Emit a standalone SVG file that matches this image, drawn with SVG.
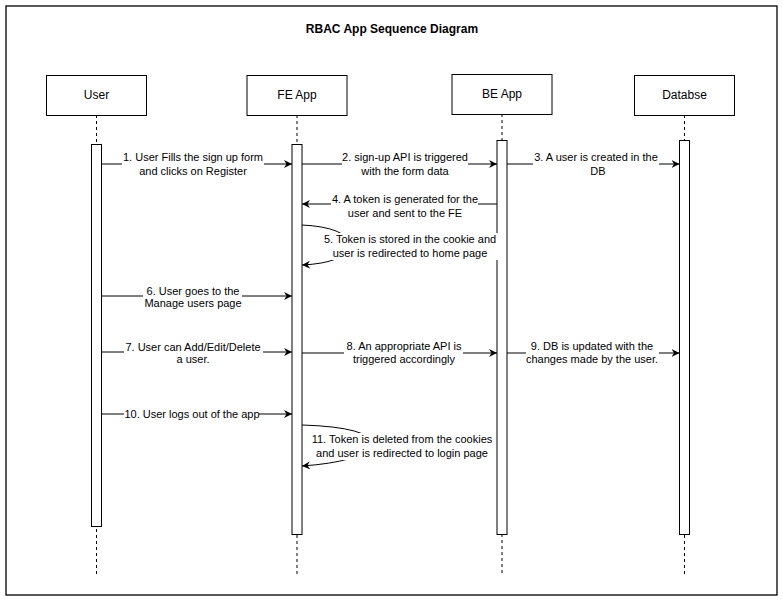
<svg xmlns="http://www.w3.org/2000/svg" width="783" height="602" viewBox="0 0 783 602">
<defs>
<style>
.frame{fill:#fff;stroke:#000;stroke-width:1.3}
.box{fill:#fff;stroke:#000;stroke-width:1}
.bar{fill:#fff;stroke:#000;stroke-width:1}
.life{stroke:#000;stroke-width:1;stroke-dasharray:3 3;fill:none}
.msg{stroke:#000;stroke-width:1;fill:none;marker-end:url(#arr)}
.bg{fill:#fff;stroke:none}
.t{font-family:"Liberation Sans",Arial,sans-serif;font-size:11px;fill:#000;text-anchor:middle}
.n{font-family:"Liberation Sans",Arial,sans-serif;font-size:12px;fill:#000;text-anchor:middle}
.title{font-family:"Liberation Sans",Arial,sans-serif;font-size:12px;font-weight:bold;fill:#000;text-anchor:middle}
</style>
<marker id="arr" markerUnits="userSpaceOnUse" markerWidth="10" markerHeight="10" refX="8" refY="4" orient="auto">
<path d="M0,0 L8,4 L0,8 L2.5,4 z" fill="#000"/>
</marker>
</defs>
<rect class="frame" x="6" y="6" width="771" height="589"/>
<text class="title" x="392" y="33">RBAC App Sequence Diagram</text>

<g id="user">
<line class="life" x1="96.5" y1="115" x2="96.5" y2="574"/>
<rect class="box" x="46.5" y="75.5" width="100" height="40"/>
<text class="n" x="96.5" y="99">User</text>
<rect class="bar" x="91.5" y="144.5" width="10" height="382"/>
</g>
<g id="fe">
<line class="life" x1="297" y1="115" x2="297" y2="574"/>
<rect class="box" x="247" y="75.5" width="100" height="40"/>
<text class="n" x="297" y="99">FE App</text>
<rect class="bar" x="292" y="144.5" width="10" height="390"/>
</g>
<g id="be">
<line class="life" x1="502" y1="114" x2="502" y2="574"/>
<rect class="box" x="452" y="74.5" width="100" height="40"/>
<text class="n" x="502" y="98">BE App</text>
<rect class="bar" x="497" y="140.5" width="10" height="394"/>
</g>
<g id="db">
<line class="life" x1="684.5" y1="115" x2="684.5" y2="574"/>
<rect class="box" x="634.5" y="75.5" width="100" height="40"/>
<text class="n" x="684.5" y="99">Databse</text>
<rect class="bar" x="679.5" y="140.5" width="10" height="394"/>
</g>

<g id="connectors">
<line class="msg" x1="101.5" y1="164" x2="292" y2="164"/>
<line class="msg" x1="302" y1="164" x2="497" y2="164"/>
<line class="msg" x1="507" y1="164" x2="679.5" y2="164"/>
<line class="msg" x1="497" y1="204" x2="302" y2="204"/>
<path class="msg" d="M302 225 Q345 227 352 245 Q345 263 302 265"/>
<line class="msg" x1="101.5" y1="296" x2="292" y2="296"/>
<line class="msg" x1="101.5" y1="352" x2="292" y2="352"/>
<line class="msg" x1="302" y1="353" x2="497" y2="353"/>
<line class="msg" x1="507" y1="353" x2="679.5" y2="353"/>
<line class="msg" x1="101.5" y1="414" x2="292" y2="414"/>
<path class="msg" d="M302 425 Q370 427 375 445 Q360 462 302 466"/>
</g>

<g id="labels">
<rect class="bg" x="122" y="150" width="142" height="28"/>
<text class="t" x="193" y="161">1. User Fills the sign up form</text>
<text class="t" x="193" y="175">and clicks on Register</text>

<rect class="bg" x="342" y="150" width="126" height="28"/>
<text class="t" x="405" y="161">2. sign-up API is triggered</text>
<text class="t" x="405" y="175">with the form data</text>

<rect class="bg" x="533" y="150" width="126" height="28"/>
<text class="t" x="596" y="161">3. A user is created in the</text>
<text class="t" x="598" y="175">DB</text>

<rect class="bg" x="331" y="192" width="147" height="28"/>
<text class="t" x="405" y="203">4. A token is generated for the</text>
<text class="t" x="405" y="217">user and sent to the FE</text>

<rect class="bg" x="316" y="233" width="188" height="27"/>
<text class="t" x="410" y="243">5. Token is stored in the cookie and</text>
<text class="t" x="410" y="257">user is redirected to home page</text>

<rect class="bg" x="143" y="284" width="99" height="26"/>
<text class="t" x="193" y="295">6. User goes to the</text>
<text class="t" x="193" y="307">Manage users page</text>

<rect class="bg" x="124" y="340" width="139" height="26"/>
<text class="t" x="193" y="351">7. User can Add/Edit/Delete</text>
<text class="t" x="193" y="363">a user.</text>

<rect class="bg" x="344" y="340" width="119" height="26"/>
<text class="t" x="404" y="350">8. An appropriate API is</text>
<text class="t" x="404" y="363">triggered accordingly</text>

<rect class="bg" x="526" y="340" width="133" height="26"/>
<text class="t" x="592" y="350">9. DB is updated with the</text>
<text class="t" x="592" y="363">changes made by the user.</text>

<rect class="bg" x="124" y="407" width="135" height="14"/>
<text class="t" x="192" y="418">10. User logs out of the app</text>

<rect class="bg" x="311" y="433" width="183" height="27"/>
<text class="t" x="402" y="443">11. Token is deleted from the cookies</text>
<text class="t" x="402" y="457">and user is redirected to login page</text>
</g>
</svg>
